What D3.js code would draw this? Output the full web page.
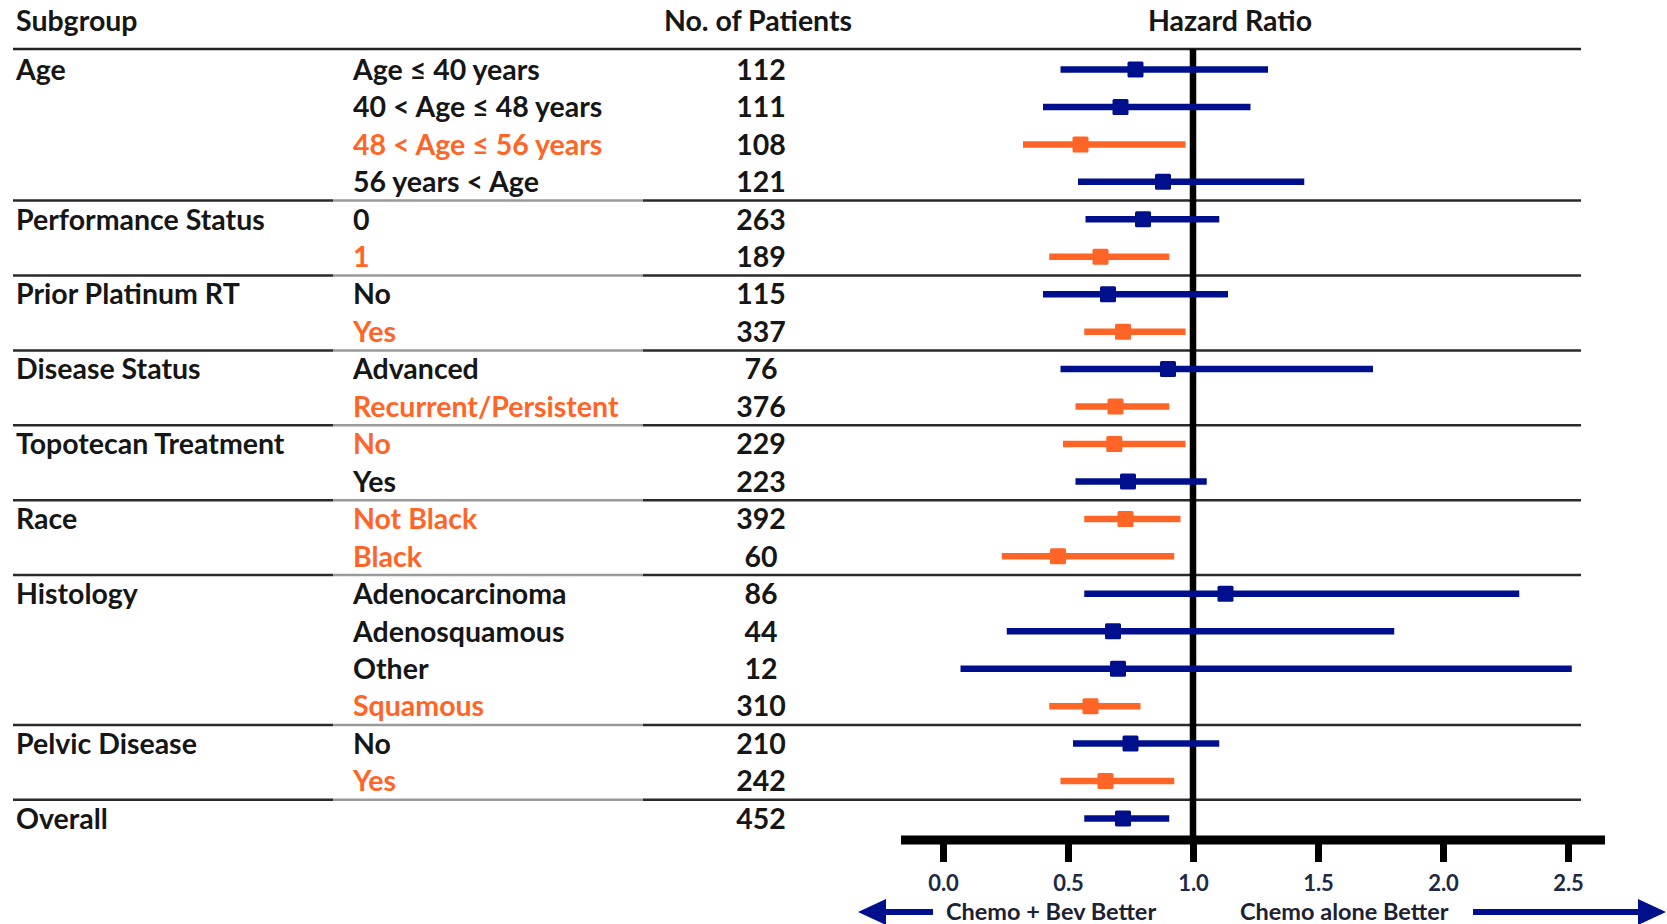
<!DOCTYPE html>
<html>
<head>
<meta charset="utf-8">
<script src="https://cdn.jsdelivr.net/npm/d3@7/dist/d3.min.js"></script>
<style>
  html, body { margin: 0; padding: 0; background: #fff; }
  svg { display: block; }
  text { font-family: Lato, "Open Sans", sans-serif; font-weight: bold; }
</style>
</head>
<body>
<svg id="chart" width="1667" height="924"></svg>
<script>
// ---- data ----
const groups = ["Age", "", "", "", "Performance Status", "", "Prior Platinum RT", "", "Disease Status", "",
  "Topotecan Treatment", "", "Race", "", "Histology", "", "", "", "Pelvic Disease", "", "Overall"];
const subgroups = ["Age ≤ 40 years", "40 < Age ≤ 48 years", "48 < Age ≤ 56 years", "56 years < Age",
  "0", "1", "No", "Yes", "Advanced", "Recurrent/Persistent", "No", "Yes", "Not Black", "Black",
  "Adenocarcinoma", "Adenosquamous", "Other", "Squamous", "No", "Yes", ""];
const patients = [112, 111, 108, 121, 263, 189, 115, 337, 76, 376, 229, 223, 392, 60, 86, 44, 12, 310, 210, 242, 452];
const hr =  [0.77, 0.71, 0.55, 0.88, 0.80, 0.63, 0.66, 0.72, 0.90, 0.69, 0.685, 0.74, 0.73, 0.46, 1.13, 0.68, 0.70, 0.59, 0.75, 0.65, 0.72];
const lo =  [0.47, 0.40, 0.32, 0.54, 0.57, 0.425, 0.40, 0.565, 0.47, 0.53, 0.48, 0.53, 0.565, 0.235, 0.565, 0.255, 0.07, 0.425, 0.52, 0.47, 0.565];
const hi =  [1.30, 1.23, 0.97, 1.445, 1.105, 0.905, 1.14, 0.97, 1.72, 0.905, 0.97, 1.055, 0.95, 0.925, 2.305, 1.805, 2.515, 0.79, 1.105, 0.925, 0.905];
const highlight = [0,0,1,0, 0,1, 0,1, 0,1, 1,0, 1,1, 0,0,0,1, 0,1, 0];
const separatorsAfter = [3, 5, 7, 9, 11, 13, 17, 19];
const tickValues = [0.0, 0.5, 1.0, 1.5, 2.0, 2.5];
const headers = ["Subgroup", "No. of Patients", "Hazard Ratio"];
const arrowLabels = ["Chemo + Bev Better", "Chemo alone Better"];

// ---- layout ----
const BLUE = "#00108C", ORANGE = "#FF6526", TXT = "#161616";
const FS = 28.5;
const svg = d3.select("#chart");
const x = d3.scaleLinear().domain([0, 2.5]).range([943, 1568]);
const y = d3.scaleLinear().domain([0, 20]).range([69.5, 818.5]);
const headerY = 21, headerLineY = 49, axisY = 840;
const lineX0 = 13, lineX1 = 1581;

// headers
svg.append("text").attr("x", 16).attr("y", headerY).attr("dy", "0.36em")
  .attr("font-size", FS).attr("fill", TXT).text(headers[0]);
svg.append("text").attr("x", 758).attr("y", headerY).attr("dy", "0.36em")
  .attr("text-anchor", "middle").attr("font-size", FS).attr("fill", TXT).text(headers[1]);
svg.append("text").attr("x", 1230).attr("y", headerY).attr("dy", "0.36em")
  .attr("text-anchor", "middle").attr("font-size", FS).attr("fill", TXT).text(headers[2]);

svg.append("line").attr("x1", lineX0).attr("x2", lineX1).attr("y1", headerLineY).attr("y2", headerLineY)
  .attr("stroke", "#222").attr("stroke-width", 2.5);

// separators (dark - gray - dark)
separatorsAfter.forEach(i => {
  const yy = (y(i) + y(i + 1)) / 2;
  const segs = [[lineX0, 333, "#2a2a2a"], [333, 643, "#9a9a9a"], [643, lineX1, "#2a2a2a"]];
  segs.forEach(s => svg.append("line").attr("x1", s[0]).attr("x2", s[1]).attr("y1", yy).attr("y2", yy)
    .attr("stroke", s[2]).attr("stroke-width", 2.5));
});

// rows text
const rows = d3.range(groups.length);
svg.selectAll("text.grp").data(rows).join("text").attr("class", "grp")
  .attr("x", 16).attr("y", i => y(i)).attr("dy", "0.36em").attr("font-size", FS)
  .attr("fill", TXT).text(i => groups[i]);
svg.selectAll("text.sub").data(rows).join("text").attr("class", "sub")
  .attr("x", 353).attr("y", i => y(i)).attr("dy", "0.36em").attr("font-size", FS)
  .attr("fill", i => highlight[i] ? ORANGE : TXT).text(i => subgroups[i]);
svg.selectAll("text.n").data(rows).join("text").attr("class", "n")
  .attr("x", 761).attr("y", i => y(i)).attr("dy", "0.36em").attr("font-size", FS)
  .attr("text-anchor", "middle").attr("fill", TXT).text(i => patients[i]);

// reference line at 1
svg.append("line").attr("x1", x(1)).attr("x2", x(1)).attr("y1", headerLineY).attr("y2", axisY)
  .attr("stroke", "#000").attr("stroke-width", 6.5);

// CI lines and markers
svg.selectAll("line.ci").data(rows).join("line").attr("class", "ci")
  .attr("x1", i => x(lo[i])).attr("x2", i => x(hi[i]))
  .attr("y1", i => y(i)).attr("y2", i => y(i))
  .attr("stroke", i => highlight[i] ? ORANGE : BLUE).attr("stroke-width", 6.5);
const ms = 16;
svg.selectAll("rect.pt").data(rows).join("rect").attr("class", "pt")
  .attr("x", i => x(hr[i]) - ms / 2).attr("y", i => y(i) - ms / 2)
  .attr("width", ms).attr("height", ms).attr("rx", 1.5)
  .attr("fill", i => highlight[i] ? ORANGE : BLUE);

// axis
const axisG = svg.append("g").attr("transform", `translate(0,${axisY})`)
  .call(d3.axisBottom(x).tickValues(tickValues).tickSize(22).tickPadding(13).tickFormat(d3.format(".1f")));
axisG.select(".domain").remove();
axisG.selectAll(".tick line").attr("stroke", "#000").attr("stroke-width", 7);
axisG.selectAll(".tick text").attr("font-size", 22).attr("fill", "#1c2a44")
  .attr("font-family", "Lato, sans-serif").attr("font-weight", "bold");
svg.append("line").attr("x1", 901).attr("x2", 1605).attr("y1", axisY).attr("y2", axisY)
  .attr("stroke", "#000").attr("stroke-width", 9);

// arrows
const ay = 912;
svg.append("line").attr("x1", 880).attr("x2", 933).attr("y1", ay).attr("y2", ay)
  .attr("stroke", BLUE).attr("stroke-width", 6);
svg.append("path").attr("d", `M858,${ay} L886,${ay - 13} L886,${ay + 13} Z`).attr("fill", BLUE);
svg.append("line").attr("x1", 1473).attr("x2", 1642).attr("y1", ay).attr("y2", ay)
  .attr("stroke", BLUE).attr("stroke-width", 6);
svg.append("path").attr("d", `M1666,${ay} L1638,${ay - 13} L1638,${ay + 13} Z`).attr("fill", BLUE);
svg.append("text").attr("x", 946).attr("y", ay).attr("dy", "0.36em").attr("font-size", 23.5)
  .attr("fill", "#1c2233").text(arrowLabels[0]);
svg.append("text").attr("x", 1240).attr("y", ay).attr("dy", "0.36em").attr("font-size", 23.5)
  .attr("fill", "#1c2233").text(arrowLabels[1]);
</script>
</body>
</html>
